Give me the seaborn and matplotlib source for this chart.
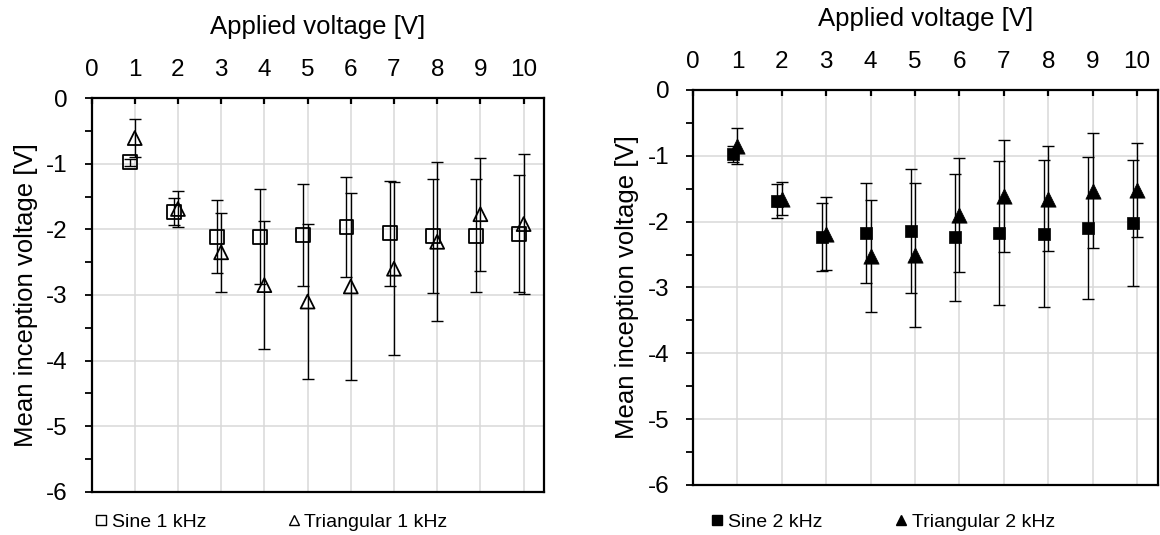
import matplotlib
matplotlib.use("Agg")
import numpy as np
import pandas as pd
import matplotlib.pyplot as plt
import seaborn as sns
from matplotlib.lines import Line2D
from matplotlib.ticker import MultipleLocator

# ---------------- data ----------------
voltages = [1, 2, 3, 4, 5, 6, 7, 8, 9, 10]
x_ticks = [0, 1, 2, 3, 4, 5, 6, 7, 8, 9, 10]
y_ticks = [-6, -5, -4, -3, -2, -1, 0]

sine1_mean = [-0.98, -1.73, -2.11, -2.11, -2.09, -1.97, -2.06, -2.10, -2.10, -2.07]
sine1_err = [0.05, 0.21, 0.56, 0.73, 0.78, 0.76, 0.80, 0.87, 0.86, 0.89]
tri1_mean = [-0.61, -1.69, -2.35, -2.85, -3.10, -2.87, -2.60, -2.19, -1.77, -1.92]
tri1_err = [0.29, 0.27, 0.60, 0.98, 1.18, 1.43, 1.32, 1.21, 0.86, 1.07]

sine2_mean = [-0.97, -1.69, -2.23, -2.17, -2.14, -2.24, -2.17, -2.18, -2.10, -2.02]
sine2_err = [0.12, 0.26, 0.52, 0.76, 0.94, 0.96, 1.09, 1.11, 1.08, 0.95]
tri2_mean = [-0.85, -1.65, -2.18, -2.52, -2.51, -1.90, -1.61, -1.65, -1.53, -1.52]
tri2_err = [0.28, 0.25, 0.56, 0.85, 1.09, 0.86, 0.85, 0.80, 0.87, 0.72]

x_label = "Applied voltage [V]"
y_label = "Mean inception voltage [V]"
labels_left = ["Sine 1 kHz", "Triangular 1 kHz"]
labels_right = ["Sine 2 kHz", "Triangular 2 kHz"]

# ---------------- style ----------------
sns.set_theme(style="white")
plt.rcParams["font.family"] = ["Liberation Sans", "DejaVu Sans"]
plt.rcParams["axes.unicode_minus"] = False
plt.rcParams["text.color"] = "black"
plt.rcParams["axes.labelcolor"] = "black"
plt.rcParams["xtick.color"] = "black"
plt.rcParams["ytick.color"] = "black"

TICK_FS = 17.5
LABEL_FS = 18.5
LEG_FS = 14

fig = plt.figure(figsize=(11.6, 5.35), dpi=100)
ax1 = fig.add_axes([0.0789, 0.0804, 0.3900, 0.7364])
ax2 = fig.add_axes([0.5974, 0.0935, 0.4009, 0.7383])

SINE_OFF = -0.1


def draw(ax, s_mean, s_err, t_mean, t_err, filled, labels, leg_anchor, colspace):
    xs = np.array(voltages, dtype=float) + SINE_OFF
    xt = np.array(voltages, dtype=float)
    df_s = pd.DataFrame({"x": xs, "v": s_mean})
    df_t = pd.DataFrame({"x": xt, "v": t_mean})

    ax.errorbar(xs, s_mean, yerr=s_err, fmt="none", ecolor="black",
                elinewidth=1.0, capsize=4, capthick=1.0, zorder=3)
    ax.errorbar(xt, t_mean, yerr=t_err, fmt="none", ecolor="black",
                elinewidth=1.0, capsize=4, capthick=1.0, zorder=3)

    if filled:
        sns.scatterplot(data=df_s, x="x", y="v", ax=ax, marker="s", s=8.5 ** 2,
                        color="black", edgecolor="black", linewidth=0.5, zorder=4)
        sns.scatterplot(data=df_t, x="x", y="v", ax=ax, marker="^", s=11 ** 2,
                        color="black", edgecolor="black", linewidth=0.5, zorder=5)
        h = [Line2D([], [], marker="s", ls="none", mfc="black", mec="black", ms=7),
             Line2D([], [], marker="^", ls="none", mfc="black", mec="black", ms=7.5)]
    else:
        sns.scatterplot(data=df_s, x="x", y="v", ax=ax, marker="s", s=10 ** 2,
                        facecolor="none", edgecolor="black", linewidth=1.3, zorder=4)
        sns.scatterplot(data=df_t, x="x", y="v", ax=ax, marker="^", s=10 ** 2,
                        facecolor="none", edgecolor="black", linewidth=1.3, zorder=5)
        h = [Line2D([], [], marker="s", ls="none", mfc="none", mec="black", ms=6.5, mew=1.0),
             Line2D([], [], marker="^", ls="none", mfc="none", mec="black", ms=6.5, mew=1.0)]

    ax.set_xlim(0, 10.47)
    ax.set_ylim(-6, 0)
    ax.xaxis.tick_top()
    ax.xaxis.set_label_position("top")
    ax.set_xticks(x_ticks)
    ax.set_yticks(y_ticks)
    ax.yaxis.set_minor_locator(MultipleLocator(0.5))
    ax.tick_params(axis="x", which="major", direction="in", length=4.5, width=1.6,
                   pad=12, labelsize=TICK_FS, top=True, bottom=False)
    ax.tick_params(axis="y", which="both", direction="out", length=5, width=1.3,
                   pad=12, labelsize=TICK_FS, left=True)
    ax.grid(True, which="major", color="#d9d9d9", linewidth=1.1)
    ax.set_axisbelow(True)
    for sp in ax.spines.values():
        sp.set_color("black")
        sp.set_linewidth(1.6)
        sp.set_visible(True)
    ax.set_xlabel(x_label, fontsize=LABEL_FS, labelpad=18)
    ax.set_ylabel(y_label, fontsize=LABEL_FS, labelpad=6)

    ax.legend(handles=h, labels=labels, loc="center left",
              bbox_to_anchor=leg_anchor, ncol=2, frameon=False,
              fontsize=LEG_FS, handlelength=0.6, handletextpad=0.25,
              columnspacing=colspace, borderpad=0, borderaxespad=0)


draw(ax1, sine1_mean, sine1_err, tri1_mean, tri1_err, False, labels_left, (0.008, -0.076), 4.2)
draw(ax2, sine2_mean, sine2_err, tri2_mean, tri2_err, True, labels_right, (0.039, -0.094), 3.75)

fig.savefig("out.png", dpi=100)
